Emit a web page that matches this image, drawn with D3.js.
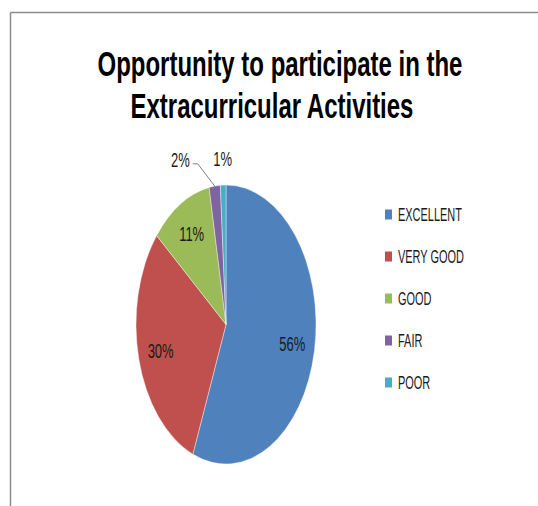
<!DOCTYPE html>
<html>
<head>
<meta charset="utf-8">
<script src="https://cdn.jsdelivr.net/npm/d3@7"></script>
<style>
  body { margin: 0; background: #fff; }
  svg { display: block; }
  text { font-family: "Liberation Sans", Arial, sans-serif; }
</style>
</head>
<body>
<svg id="chart" width="538" height="506"></svg>
<script>
var titleLines = ["Opportunity to participate in the", "Extracurricular Activities"];
var categories = ["EXCELLENT", "VERY GOOD", "GOOD", "FAIR", "POOR"];
var percents = [56, 30, 11, 2, 1];
var colors = ["#4F81BD", "#C0504D", "#9BBB59", "#8064A2", "#4BACC6"];

var svg = d3.select("#chart"),
    width = +svg.attr("width"),
    height = +svg.attr("height");

// the source text is a narrow Calibri-like face, so squeeze a regular font sideways
function squeeze(sel, k) {
  sel.each(function() {
    var t = d3.select(this);
    var x = +t.attr("x");
    t.attr("transform", "translate(" + x + ",0) scale(" + k + ",1) translate(" + (-x) + ",0)");
  });
}

// frame (only top and left edge visible in the crop)
svg.append("line").attr("x1", 10.5).attr("y1", 12.5).attr("x2", width).attr("y2", 12.5)
  .attr("stroke", "#8c8c8c").attr("stroke-width", 1.5);
svg.append("line").attr("x1", 10.5).attr("y1", 12.5).attr("x2", 10.5).attr("y2", height)
  .attr("stroke", "#8c8c8c").attr("stroke-width", 1.5);

// title
var title = svg.append("g").selectAll("text")
  .data(titleLines)
  .enter().append("text")
    .attr("x", function(d, i) { return i == 0 ? 280 : 272; })
    .attr("y", function(d, i) { return 76 + i * 42; })
    .attr("text-anchor", "middle")
    .attr("font-weight", "bold")
    .attr("font-size", 36)
    .attr("fill", "#000")
    .text(function(d) { return d; });
var titleK = 365 / title.node().getComputedTextLength();
squeeze(title, titleK);

// pie (drawn as circle then squeezed into an ellipse)
var cx = 226, cy = 324.5, ry = 139.5, rx = 90;
var sx = rx / ry;

var pie = d3.pie().sort(null).value(function(d) { return d; });
var arcs = pie(percents);
var arc = d3.arc().innerRadius(0).outerRadius(ry);

var pieG = svg.append("g")
  .attr("transform", "translate(" + cx + "," + cy + ") scale(" + sx + ",1)");

pieG.selectAll("path")
  .data(arcs)
  .enter().append("path")
    .attr("d", arc)
    .attr("fill", function(d, i) { return colors[i]; })
    .attr("stroke", "#ffffff")
    .attr("stroke-opacity", 0.6)
    .attr("stroke-width", 0.8);

// legend
var legY = d3.scalePoint().domain(categories).range([214, 382]);
var legend = svg.append("g");
var item = legend.selectAll("g")
  .data(categories)
  .enter().append("g")
    .attr("transform", function(d) { return "translate(385," + legY(d) + ")"; });
item.append("rect")
  .attr("x", 0).attr("y", -4.5)
  .attr("width", 7).attr("height", 10)
  .attr("fill", function(d, i) { return colors[i]; });
var legText = item.append("text")
  .attr("x", 13)
  .attr("y", 0)
  .attr("dy", "0.36em")
  .attr("font-size", 18.5)
  .attr("fill", "#1a1a1a")
  .text(function(d) { return d; });
var legK = 64 / legText.node().getComputedTextLength();
squeeze(legText, legK);

// labels
var labelG = svg.append("g").attr("transform", "translate(" + cx + "," + cy + ")");
var fmt = function(v) { return v + "%"; };
var inside = arcs.filter(function(d) { return d.data >= 5; });
var labelArc = d3.arc().innerRadius(ry * 0.75).outerRadius(ry * 0.75);

var inLabels = labelG.selectAll("text.in")
  .data(inside)
  .enter().append("text")
    .attr("class", "in")
    .attr("x", function(d) { return labelArc.centroid(d)[0] * sx; })
    .attr("y", function(d) { return labelArc.centroid(d)[1]; })
    .attr("dy", "0.36em")
    .attr("text-anchor", "middle")
    .attr("font-size", 19.5)
    .attr("fill", "#1a1a1a")
    .text(function(d) { return fmt(d.data); });
var pctK = 26 / inLabels.node().getComputedTextLength();
squeeze(inLabels, pctK);

// small slices: outside labels, with leader for the one pushed aside
var outside = arcs.filter(function(d) { return d.data < 5; });
var outR = ry * 1.19;
outside.forEach(function(d, j) {
  var mid = (d.startAngle + d.endAngle) / 2;
  var ex = Math.sin(mid) * ry * sx, ey = -Math.cos(mid) * ry;
  var t;
  if (j == outside.length - 1) {
    t = labelG.append("text")
      .attr("x", Math.sin(mid) * outR * sx)
      .attr("y", -Math.cos(mid) * outR)
      .attr("text-anchor", "middle");
  } else {
    var lx = ex - 17, ly = -Math.cos(mid) * outR + 4;
    labelG.append("polyline")
      .attr("points", [[ex, ey], [lx, ly], [lx - 5, ly]].join(" "))
      .attr("fill", "none")
      .attr("stroke", "#7f7f7f")
      .attr("stroke-width", 1);
    t = labelG.append("text")
      .attr("x", lx - 8)
      .attr("y", ly - 4)
      .attr("text-anchor", "end");
  }
  t.attr("dy", "0.36em")
    .attr("font-size", 19.5)
    .attr("fill", "#1a1a1a")
    .text(fmt(d.data));
  squeeze(t, pctK);
});
</script>
</body>
</html>
